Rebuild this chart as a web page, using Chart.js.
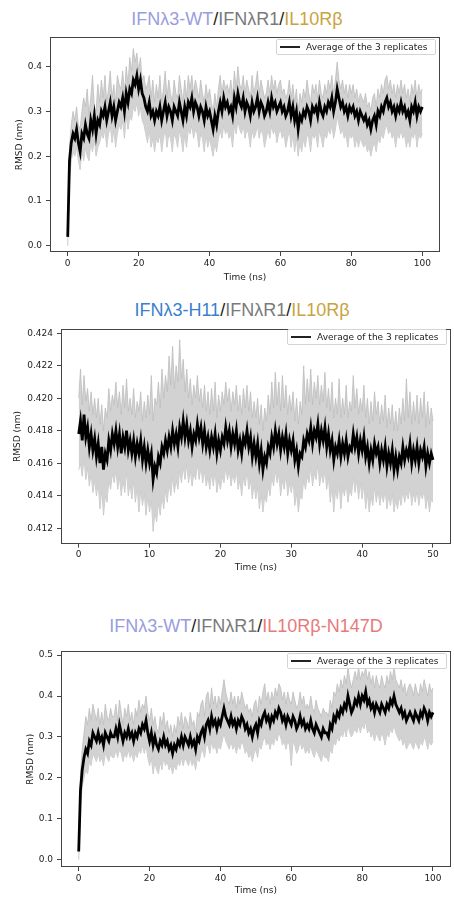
<!DOCTYPE html>
<html><head><meta charset="utf-8">
<script src="https://cdn.jsdelivr.net/npm/chart.js@4.4.1/dist/chart.umd.min.js"></script>
<style>
html,body{margin:0;padding:0;background:#fff;}
body{width:454px;height:898px;position:relative;overflow:hidden;}
.title{position:absolute;font-family:'Liberation Sans',Arial,sans-serif;font-size:18px;white-space:nowrap;transform:translateX(-50%);line-height:18px;}
canvas{position:absolute;left:0;}
.legend{position:absolute;width:160px;height:16px;border:1px solid #d4d4d4;border-radius:2px;background:rgba(255,255,255,0.85);font-family:'DejaVu Sans',sans-serif;font-size:9px;color:#222;box-sizing:border-box;z-index:2;}
.legend .ln{position:absolute;left:3px;width:20px;top:6px;height:2px;background:#222;}
.legend .tx{position:absolute;left:29px;top:0;line-height:14px;white-space:nowrap;}
</style></head>
<body>
<div class="title" style="left:237px;top:10px;"><span style="color:#9a9ce0">IFNλ3-WT</span><span style="color:#222">/</span><span style="color:#7a7a7a">IFNλR1</span><span style="color:#222">/</span><span style="color:#c8a440">IL10Rβ</span></div>
<div class="title" style="left:242px;top:301px;"><span style="color:#3a7fce">IFNλ3-H11</span><span style="color:#222">/</span><span style="color:#7a7a7a">IFNλR1</span><span style="color:#222">/</span><span style="color:#c8a440">IL10Rβ</span></div>
<div class="title" style="left:246px;top:617px;"><span style="color:#9a9ce0">IFNλ3-WT</span><span style="color:#222">/</span><span style="color:#7a7a7a">IFNλR1</span><span style="color:#222">/</span><span style="color:#e87a7a">IL10Rβ-N147D</span></div>

<canvas id="c1" width="454" height="255" style="top:28px"></canvas>
<canvas id="c2" width="454" height="253" style="top:320px"></canvas>
<canvas id="c3" width="454" height="254" style="top:642px"></canvas>

<div class="legend" style="left:276px;top:39px;"><div class="ln"></div><div class="tx">Average of the 3 replicates</div></div>
<div class="legend" style="left:287px;top:329px;"><div class="ln"></div><div class="tx">Average of the 3 replicates</div></div>
<div class="legend" style="left:287px;top:653px;"><div class="ln"></div><div class="tx">Average of the 3 replicates</div></div>

<script>
// ---------- time grids (ns) ----------
const time100 = Array.from({length: 201}, (_, i) => i * 0.5);
const time50 = Array.from({length: 201}, (_, i) => i * 0.25);

// ---------- axis ticks ----------
const xTicks1 = [0, 20, 40, 60, 80, 100];
const yTicks1 = [0.0, 0.1, 0.2, 0.3, 0.4];
const yTickLabels1 = ['0.0', '0.1', '0.2', '0.3', '0.4'];
const xTicks2 = [0, 10, 20, 30, 40, 50];
const yTicks2 = [0.412, 0.414, 0.416, 0.418, 0.420, 0.422, 0.424];
const yTickLabels2 = ['0.412', '0.414', '0.416', '0.418', '0.420', '0.422', '0.424'];
const xTicks3 = [0, 20, 40, 60, 80, 100];
const yTicks3 = [0.0, 0.1, 0.2, 0.3, 0.4, 0.5];
const yTickLabels3 = ['0.0', '0.1', '0.2', '0.3', '0.4', '0.5'];

// ---------- Panel 1: IFNλ3-WT/IFNλR1/IL10Rβ (0-100 ns) ----------
const mean1 = [
0.02,0.19,0.23,0.25,0.24,0.26,0.23,0.21,0.25,0.24,
0.27,0.25,0.24,0.28,0.26,0.29,0.25,0.28,0.27,0.30,
0.29,0.31,0.28,0.30,0.32,0.29,0.31,0.28,0.30,0.32,
0.31,0.33,0.30,0.34,0.32,0.35,0.34,0.37,0.36,0.38,
0.35,0.37,0.34,0.33,0.31,0.30,0.32,0.29,0.30,0.28,
0.30,0.29,0.31,0.28,0.30,0.32,0.29,0.31,0.30,0.28,
0.31,0.30,0.29,0.32,0.30,0.28,0.31,0.29,0.32,0.31,
0.33,0.30,0.32,0.31,0.29,0.31,0.30,0.28,0.31,0.29,
0.30,0.28,0.26,0.29,0.27,0.30,0.32,0.30,0.33,0.31,
0.32,0.30,0.31,0.29,0.33,0.31,0.34,0.32,0.31,0.33,
0.30,0.32,0.31,0.29,0.32,0.30,0.31,0.33,0.30,0.32,
0.31,0.29,0.30,0.32,0.30,0.33,0.31,0.32,0.30,0.31,
0.32,0.30,0.31,0.29,0.30,0.32,0.29,0.31,0.28,0.30,
0.26,0.29,0.28,0.30,0.29,0.31,0.30,0.28,0.31,0.30,
0.31,0.29,0.32,0.30,0.29,0.31,0.30,0.32,0.31,0.33,
0.30,0.32,0.35,0.33,0.31,0.32,0.30,0.31,0.29,0.31,
0.30,0.31,0.29,0.30,0.28,0.30,0.29,0.28,0.29,0.27,
0.28,0.26,0.28,0.29,0.27,0.30,0.29,0.31,0.30,0.32,
0.33,0.31,0.32,0.30,0.31,0.29,0.31,0.30,0.32,0.30,
0.31,0.29,0.30,0.28,0.31,0.30,0.32,0.29,0.31,0.30,
0.31];
const upper1 = [
0.03,0.22,0.27,0.30,0.28,0.31,0.27,0.26,0.30,0.33,
0.31,0.35,0.29,0.33,0.38,0.31,0.30,0.36,0.32,0.37,
0.33,0.38,0.32,0.35,0.39,0.33,0.36,0.32,0.38,0.36,
0.35,0.39,0.34,0.40,0.36,0.42,0.39,0.44,0.41,0.43,
0.39,0.42,0.37,0.38,0.35,0.36,0.38,0.33,0.37,0.32,
0.36,0.33,0.38,0.32,0.35,0.39,0.33,0.37,0.34,0.32,
0.37,0.34,0.33,0.38,0.35,0.32,0.37,0.33,0.38,0.35,
0.38,0.34,0.37,0.35,0.33,0.37,0.34,0.32,0.36,0.33,
0.35,0.32,0.30,0.34,0.31,0.35,0.38,0.34,0.37,0.35,
0.36,0.34,0.37,0.33,0.39,0.35,0.40,0.36,0.35,0.38,
0.34,0.37,0.35,0.33,0.38,0.34,0.36,0.39,0.34,0.37,
0.35,0.33,0.34,0.37,0.34,0.38,0.35,0.37,0.34,0.36,
0.37,0.34,0.35,0.33,0.34,0.37,0.33,0.36,0.32,0.35,
0.30,0.34,0.32,0.35,0.33,0.37,0.34,0.32,0.36,0.34,
0.36,0.33,0.37,0.34,0.33,0.36,0.34,0.37,0.35,0.38,
0.34,0.37,0.41,0.37,0.35,0.37,0.34,0.36,0.33,0.36,
0.34,0.36,0.33,0.35,0.32,0.34,0.33,0.32,0.34,0.31,
0.32,0.30,0.33,0.34,0.31,0.35,0.33,0.36,0.34,0.37,
0.38,0.35,0.37,0.34,0.36,0.33,0.36,0.34,0.37,0.34,
0.36,0.33,0.35,0.32,0.36,0.34,0.37,0.33,0.36,0.34,
0.35];
const lower1 = [
0.00,0.15,0.19,0.21,0.20,0.22,0.19,0.17,0.21,0.19,
0.22,0.20,0.19,0.23,0.21,0.24,0.20,0.22,0.23,0.25,
0.24,0.26,0.22,0.25,0.27,0.23,0.26,0.22,0.25,0.27,
0.26,0.28,0.24,0.29,0.26,0.29,0.28,0.31,0.30,0.32,
0.29,0.31,0.28,0.27,0.25,0.23,0.26,0.22,0.24,0.21,
0.24,0.23,0.25,0.21,0.24,0.26,0.22,0.25,0.24,0.21,
0.25,0.24,0.22,0.26,0.24,0.21,0.25,0.22,0.26,0.25,
0.27,0.24,0.26,0.25,0.22,0.25,0.24,0.21,0.25,0.22,
0.24,0.22,0.20,0.23,0.21,0.24,0.26,0.24,0.27,0.25,
0.26,0.24,0.25,0.22,0.27,0.25,0.28,0.26,0.25,0.27,
0.24,0.26,0.25,0.22,0.26,0.24,0.25,0.27,0.24,0.26,
0.25,0.22,0.24,0.26,0.24,0.27,0.25,0.26,0.23,0.25,
0.26,0.24,0.25,0.22,0.24,0.26,0.22,0.25,0.21,0.24,
0.20,0.23,0.21,0.24,0.22,0.25,0.24,0.21,0.25,0.24,
0.25,0.22,0.26,0.24,0.22,0.25,0.24,0.26,0.25,0.27,
0.24,0.26,0.29,0.27,0.25,0.26,0.24,0.25,0.22,0.25,
0.24,0.25,0.22,0.24,0.22,0.24,0.23,0.22,0.23,0.21,
0.22,0.20,0.22,0.23,0.21,0.24,0.23,0.25,0.24,0.26,
0.27,0.25,0.26,0.24,0.25,0.22,0.25,0.24,0.26,0.24,
0.25,0.22,0.24,0.22,0.25,0.24,0.26,0.22,0.25,0.24,
0.25];

// ---------- Panel 2: IFNλ3-H11/IFNλR1/IL10Rβ (0-50 ns) ----------
const mean2 = [
0.4178,0.4186,0.4174,0.4190,0.4176,0.4182,0.4170,0.4178,0.4168,0.4175,
0.4164,0.4172,0.4160,0.4170,0.4156,0.4166,0.4162,0.4174,0.4168,0.4178,
0.4172,0.4180,0.4170,0.4178,0.4166,0.4176,0.4170,0.4180,0.4168,0.4174,
0.4166,0.4174,0.4164,0.4172,0.4166,0.4174,0.4162,0.4170,0.4160,0.4168,
0.4160,0.4166,0.4150,0.4158,0.4154,0.4164,0.4160,0.4170,0.4166,0.4174,
0.4168,0.4176,0.4170,0.4180,0.4172,0.4178,0.4170,0.4182,0.4176,0.4186,
0.4176,0.4184,0.4174,0.4180,0.4170,0.4178,0.4174,0.4184,0.4176,0.4182,
0.4172,0.4180,0.4170,0.4176,0.4168,0.4176,0.4170,0.4178,0.4166,0.4174,
0.4168,0.4176,0.4172,0.4182,0.4174,0.4180,0.4170,0.4178,0.4172,0.4180,
0.4168,0.4174,0.4166,0.4176,0.4172,0.4180,0.4170,0.4176,0.4164,0.4172,
0.4164,0.4172,0.4160,0.4168,0.4156,0.4164,0.4160,0.4170,0.4166,0.4176,
0.4170,0.4180,0.4172,0.4178,0.4168,0.4176,0.4170,0.4178,0.4166,0.4174,
0.4168,0.4174,0.4162,0.4168,0.4158,0.4166,0.4164,0.4174,0.4170,0.4178,
0.4174,0.4182,0.4172,0.4180,0.4176,0.4184,0.4172,0.4180,0.4174,0.4182,
0.4170,0.4178,0.4168,0.4174,0.4162,0.4170,0.4166,0.4174,0.4164,0.4172,
0.4166,0.4174,0.4164,0.4170,0.4168,0.4178,0.4170,0.4176,0.4166,0.4174,
0.4168,0.4176,0.4164,0.4170,0.4160,0.4168,0.4162,0.4172,0.4166,0.4170,
0.4160,0.4168,0.4162,0.4170,0.4158,0.4166,0.4160,0.4168,0.4156,0.4164,
0.4156,0.4164,0.4160,0.4170,0.4162,0.4168,0.4164,0.4172,0.4160,0.4168,
0.4162,0.4170,0.4160,0.4168,0.4164,0.4170,0.4158,0.4166,0.4160,0.4166,
0.4162];
const upper2 = [
0.4200,0.4218,0.4196,0.4214,0.4198,0.4206,0.4192,0.4204,0.4190,0.4200,
0.4188,0.4200,0.4184,0.4196,0.4180,0.4194,0.4188,0.4206,0.4192,0.4202,
0.4196,0.4210,0.4194,0.4204,0.4190,0.4208,0.4194,0.4212,0.4192,0.4200,
0.4190,0.4206,0.4188,0.4198,0.4192,0.4204,0.4186,0.4198,0.4188,0.4202,
0.4190,0.4214,0.4186,0.4200,0.4196,0.4210,0.4194,0.4218,0.4200,0.4214,
0.4204,0.4226,0.4208,0.4232,0.4206,0.4220,0.4210,0.4236,0.4212,0.4224,
0.4204,0.4218,0.4200,0.4212,0.4196,0.4208,0.4200,0.4214,0.4198,0.4206,
0.4194,0.4208,0.4192,0.4204,0.4190,0.4206,0.4192,0.4210,0.4188,0.4202,
0.4192,0.4204,0.4196,0.4210,0.4198,0.4206,0.4192,0.4204,0.4196,0.4208,
0.4192,0.4202,0.4190,0.4206,0.4194,0.4208,0.4192,0.4204,0.4188,0.4198,
0.4188,0.4200,0.4184,0.4196,0.4180,0.4194,0.4186,0.4202,0.4190,0.4210,
0.4194,0.4216,0.4196,0.4210,0.4192,0.4214,0.4194,0.4208,0.4190,0.4202,
0.4192,0.4204,0.4186,0.4200,0.4184,0.4198,0.4190,0.4220,0.4196,0.4212,
0.4198,0.4218,0.4196,0.4210,0.4200,0.4214,0.4196,0.4208,0.4198,0.4216,
0.4194,0.4206,0.4192,0.4210,0.4188,0.4200,0.4190,0.4212,0.4188,0.4200,
0.4190,0.4208,0.4188,0.4198,0.4192,0.4214,0.4194,0.4206,0.4190,0.4200,
0.4192,0.4208,0.4188,0.4200,0.4184,0.4198,0.4186,0.4204,0.4190,0.4198,
0.4184,0.4196,0.4186,0.4202,0.4182,0.4194,0.4184,0.4196,0.4180,0.4192,
0.4180,0.4194,0.4184,0.4200,0.4186,0.4212,0.4188,0.4204,0.4184,0.4198,
0.4186,0.4202,0.4184,0.4200,0.4188,0.4204,0.4182,0.4198,0.4184,0.4194,
0.4186];
const lower2 = [
0.4156,0.4160,0.4152,0.4164,0.4150,0.4158,0.4146,0.4154,0.4142,0.4150,
0.4140,0.4148,0.4132,0.4144,0.4128,0.4140,0.4136,0.4150,0.4144,0.4154,
0.4148,0.4156,0.4144,0.4152,0.4140,0.4150,0.4142,0.4156,0.4140,0.4148,
0.4138,0.4150,0.4136,0.4146,0.4130,0.4144,0.4134,0.4142,0.4128,0.4140,
0.4130,0.4138,0.4118,0.4130,0.4124,0.4136,0.4128,0.4140,0.4132,0.4144,
0.4136,0.4148,0.4140,0.4152,0.4142,0.4150,0.4144,0.4156,0.4148,0.4158,
0.4150,0.4160,0.4148,0.4156,0.4146,0.4154,0.4150,0.4160,0.4150,0.4158,
0.4148,0.4156,0.4146,0.4152,0.4144,0.4154,0.4146,0.4156,0.4142,0.4150,
0.4144,0.4152,0.4148,0.4158,0.4150,0.4156,0.4146,0.4154,0.4148,0.4156,
0.4144,0.4150,0.4140,0.4152,0.4146,0.4156,0.4144,0.4150,0.4138,0.4148,
0.4138,0.4146,0.4132,0.4142,0.4130,0.4140,0.4136,0.4146,0.4140,0.4152,
0.4146,0.4156,0.4148,0.4154,0.4140,0.4150,0.4144,0.4154,0.4140,0.4148,
0.4142,0.4150,0.4134,0.4142,0.4130,0.4140,0.4138,0.4150,0.4144,0.4152,
0.4148,0.4158,0.4146,0.4154,0.4150,0.4160,0.4146,0.4154,0.4148,0.4156,
0.4144,0.4152,0.4136,0.4146,0.4130,0.4144,0.4138,0.4148,0.4132,0.4146,
0.4140,0.4148,0.4136,0.4144,0.4140,0.4152,0.4142,0.4150,0.4138,0.4148,
0.4138,0.4148,0.4132,0.4142,0.4130,0.4140,0.4134,0.4146,0.4136,0.4144,
0.4134,0.4142,0.4136,0.4144,0.4132,0.4140,0.4134,0.4142,0.4130,0.4138,
0.4132,0.4140,0.4134,0.4144,0.4136,0.4142,0.4138,0.4146,0.4134,0.4142,
0.4136,0.4144,0.4134,0.4142,0.4138,0.4144,0.4132,0.4140,0.4130,0.4138,
0.4136];

// ---------- Panel 3: IFNλ3-WT/IFNλR1/IL10Rβ-N147D (0-100 ns) ----------
const mean3 = [
0.02,0.17,0.22,0.25,0.27,0.26,0.29,0.28,0.31,0.30,
0.29,0.31,0.29,0.30,0.28,0.31,0.30,0.29,0.31,0.30,
0.30,0.32,0.30,0.33,0.31,0.29,0.31,0.30,0.32,0.30,
0.31,0.29,0.31,0.30,0.32,0.31,0.33,0.32,0.34,0.31,
0.29,0.31,0.28,0.30,0.28,0.27,0.29,0.28,0.30,0.28,
0.29,0.27,0.28,0.26,0.28,0.27,0.29,0.28,0.30,0.28,
0.30,0.29,0.28,0.30,0.28,0.29,0.27,0.30,0.29,0.31,
0.32,0.30,0.33,0.34,0.32,0.35,0.33,0.34,0.32,0.34,
0.33,0.35,0.37,0.35,0.34,0.33,0.35,0.33,0.34,0.32,
0.34,0.33,0.35,0.34,0.32,0.33,0.31,0.32,0.30,0.32,
0.33,0.31,0.34,0.33,0.35,0.36,0.34,0.35,0.33,0.35,
0.34,0.36,0.35,0.37,0.36,0.34,0.35,0.33,0.35,0.34,
0.33,0.35,0.34,0.32,0.33,0.35,0.33,0.34,0.32,0.33,
0.32,0.34,0.32,0.31,0.33,0.32,0.31,0.30,0.32,0.31,
0.31,0.30,0.33,0.32,0.35,0.34,0.36,0.35,0.37,0.36,
0.38,0.37,0.40,0.38,0.36,0.37,0.39,0.38,0.40,0.38,
0.40,0.39,0.41,0.38,0.39,0.37,0.38,0.36,0.38,0.37,
0.36,0.38,0.37,0.36,0.38,0.37,0.39,0.38,0.40,0.38,
0.37,0.36,0.37,0.35,0.36,0.34,0.35,0.36,0.35,0.34,
0.36,0.35,0.34,0.36,0.35,0.37,0.36,0.34,0.36,0.35,
0.36];
const upper3 = [
0.03,0.21,0.27,0.31,0.35,0.33,0.37,0.34,0.38,0.36,
0.34,0.37,0.33,0.36,0.33,0.38,0.35,0.34,0.37,0.35,
0.35,0.38,0.34,0.39,0.36,0.33,0.37,0.35,0.38,0.34,
0.36,0.33,0.37,0.35,0.39,0.36,0.38,0.37,0.40,0.36,
0.34,0.37,0.33,0.35,0.32,0.31,0.35,0.33,0.36,0.32,
0.34,0.31,0.33,0.30,0.33,0.31,0.35,0.33,0.36,0.32,
0.35,0.34,0.32,0.36,0.33,0.34,0.31,0.36,0.35,0.38,
0.39,0.35,0.40,0.41,0.37,0.42,0.38,0.40,0.37,0.40,
0.38,0.41,0.44,0.41,0.39,0.38,0.41,0.38,0.40,0.37,
0.40,0.38,0.41,0.39,0.37,0.38,0.36,0.37,0.35,0.38,
0.39,0.36,0.40,0.38,0.41,0.43,0.39,0.41,0.38,0.41,
0.39,0.42,0.40,0.43,0.42,0.39,0.41,0.38,0.41,0.39,
0.38,0.41,0.39,0.37,0.38,0.41,0.38,0.40,0.37,0.38,
0.37,0.40,0.37,0.36,0.39,0.37,0.36,0.35,0.37,0.36,
0.36,0.35,0.39,0.37,0.41,0.40,0.43,0.41,0.44,0.42,
0.45,0.43,0.47,0.44,0.42,0.44,0.46,0.44,0.47,0.44,
0.46,0.45,0.47,0.44,0.46,0.43,0.45,0.42,0.45,0.43,
0.42,0.45,0.43,0.42,0.45,0.43,0.46,0.44,0.47,0.44,
0.43,0.42,0.44,0.41,0.43,0.40,0.42,0.43,0.42,0.40,
0.43,0.41,0.40,0.43,0.41,0.44,0.42,0.40,0.43,0.41,
0.42];
const lower3 = [
0.00,0.13,0.18,0.20,0.22,0.21,0.24,0.23,0.26,0.25,
0.24,0.26,0.24,0.25,0.23,0.26,0.25,0.24,0.26,0.25,
0.25,0.27,0.25,0.27,0.26,0.24,0.26,0.25,0.27,0.25,
0.26,0.24,0.26,0.25,0.27,0.26,0.28,0.26,0.28,0.25,
0.23,0.25,0.21,0.24,0.22,0.21,0.24,0.22,0.25,0.23,
0.24,0.22,0.23,0.21,0.23,0.22,0.24,0.23,0.25,0.23,
0.25,0.24,0.23,0.25,0.23,0.24,0.22,0.25,0.24,0.26,
0.27,0.25,0.28,0.28,0.26,0.29,0.27,0.28,0.26,0.28,
0.27,0.29,0.31,0.29,0.28,0.27,0.29,0.27,0.28,0.26,
0.28,0.27,0.29,0.28,0.26,0.27,0.25,0.26,0.24,0.26,
0.27,0.25,0.28,0.27,0.29,0.30,0.28,0.29,0.27,0.29,
0.28,0.30,0.29,0.31,0.30,0.28,0.29,0.27,0.29,0.28,
0.23,0.29,0.28,0.26,0.27,0.29,0.27,0.28,0.26,0.27,
0.26,0.28,0.26,0.25,0.27,0.26,0.25,0.24,0.26,0.25,
0.25,0.24,0.27,0.26,0.29,0.28,0.30,0.29,0.31,0.30,
0.32,0.30,0.33,0.31,0.30,0.31,0.32,0.31,0.33,0.31,
0.33,0.32,0.34,0.31,0.32,0.30,0.31,0.29,0.31,0.30,
0.29,0.31,0.30,0.28,0.31,0.30,0.32,0.31,0.33,0.31,
0.30,0.29,0.30,0.28,0.29,0.27,0.28,0.29,0.28,0.27,
0.29,0.28,0.27,0.29,0.28,0.30,0.29,0.27,0.29,0.28,
0.29];

// ---------- drawing ----------
const FONT = {family: "'DejaVu Sans', sans-serif", size: 9};
const INK = '#222';
const SPINE = '#444';

const framePlugin = {
  id: 'frame',
  afterDatasetsDraw(chart) {
    const a = chart.chartArea, c = chart.ctx;
    c.save();
    c.strokeStyle = SPINE; c.lineWidth = 1;
    c.strokeRect(Math.round(a.left) + 0.5, Math.round(a.top) + 0.5,
                 Math.round(a.right) - Math.round(a.left) - 1, Math.round(a.bottom) - Math.round(a.top) - 1);
    c.restore();
  }
};

function pts(t, v) { return v.map((y, i) => ({x: t[i], y: y})); }

function makeChart(id, g, t, mean, upper, lower, xr, yr, xTicks, yTicks, yLabels) {
  new Chart(document.getElementById(id), {
    type: 'line',
    data: {
      datasets: [
        {label: 'Average of the 3 replicates', data: pts(t, mean), borderColor: '#000', borderWidth: 2.8,
         borderJoinStyle: 'miter', pointRadius: 0, fill: false, tension: 0, order: 0},
        {label: 'upper', data: pts(t, upper), borderColor: '#bcbcbc', borderWidth: 0.8,
         backgroundColor: '#d2d2d2', pointRadius: 0, fill: '+1', tension: 0, order: 1},
        {label: 'lower', data: pts(t, lower), borderColor: '#bcbcbc', borderWidth: 0.8,
         pointRadius: 0, fill: false, tension: 0, order: 2}
      ]
    },
    options: {
      responsive: false, animation: false, devicePixelRatio: 1,
      layout: {padding: {left: 0, right: g.right, top: g.top, bottom: 0}},
      plugins: {legend: {display: false}, tooltip: {enabled: false}},
      events: [],
      scales: {
        x: {
          type: 'linear', min: xr[0], max: xr[1],
          afterBuildTicks: s => { s.ticks = xTicks.map(v => ({value: v})); },
          afterFit: s => { s.height = g.xAxisH; },
          ticks: {font: FONT, color: INK, padding: 2, maxRotation: 0, autoSkip: false,
                  callback: v => String(v)},
          grid: {drawOnChartArea: false, drawTicks: true, tickLength: 4, color: SPINE},
          border: {display: false},
          title: {display: true, text: 'Time (ns)', font: FONT, color: INK, padding: {top: 0, bottom: 0}}
        },
        y: {
          type: 'linear', min: yr[0], max: yr[1],
          afterBuildTicks: s => { s.ticks = yTicks.map(v => ({value: v})); },
          afterFit: s => { s.width = g.left; },
          ticks: {font: FONT, color: INK, padding: 4, autoSkip: false,
                  callback: (v, i) => yLabels[i]},
          grid: {drawOnChartArea: false, drawTicks: true, tickLength: 4, color: SPINE},
          border: {display: false},
          title: {display: true, text: 'RMSD (nm)', font: FONT, color: INK, padding: {top: g.yTitlePad, bottom: 0}}
        }
      }
    },
    plugins: [framePlugin]
  });
}

makeChart('c1', {left: 50, right: 14, top: 5, xAxisH: 31, yTitlePad: 14.6},
  time100, mean1, upper1, lower1, [-5, 105], [-0.0138, 0.465], xTicks1, yTicks1, yTickLabels1);
makeChart('c2', {left: 61, right: 3.3, top: 5, xAxisH: 29.4, yTitlePad: 12.6},
  time50, mean2, upper2, lower2, [-2.5, 52.5], [0.41105, 0.42424], xTicks2, yTicks2, yTickLabels2);
makeChart('c3', {left: 61, right: 3.3, top: 5, xAxisH: 29, yTitlePad: 25.6},
  time100, mean3, upper3, lower3, [-5, 105], [-0.0177, 0.509], xTicks3, yTicks3, yTickLabels3);
</script>
</body></html>
